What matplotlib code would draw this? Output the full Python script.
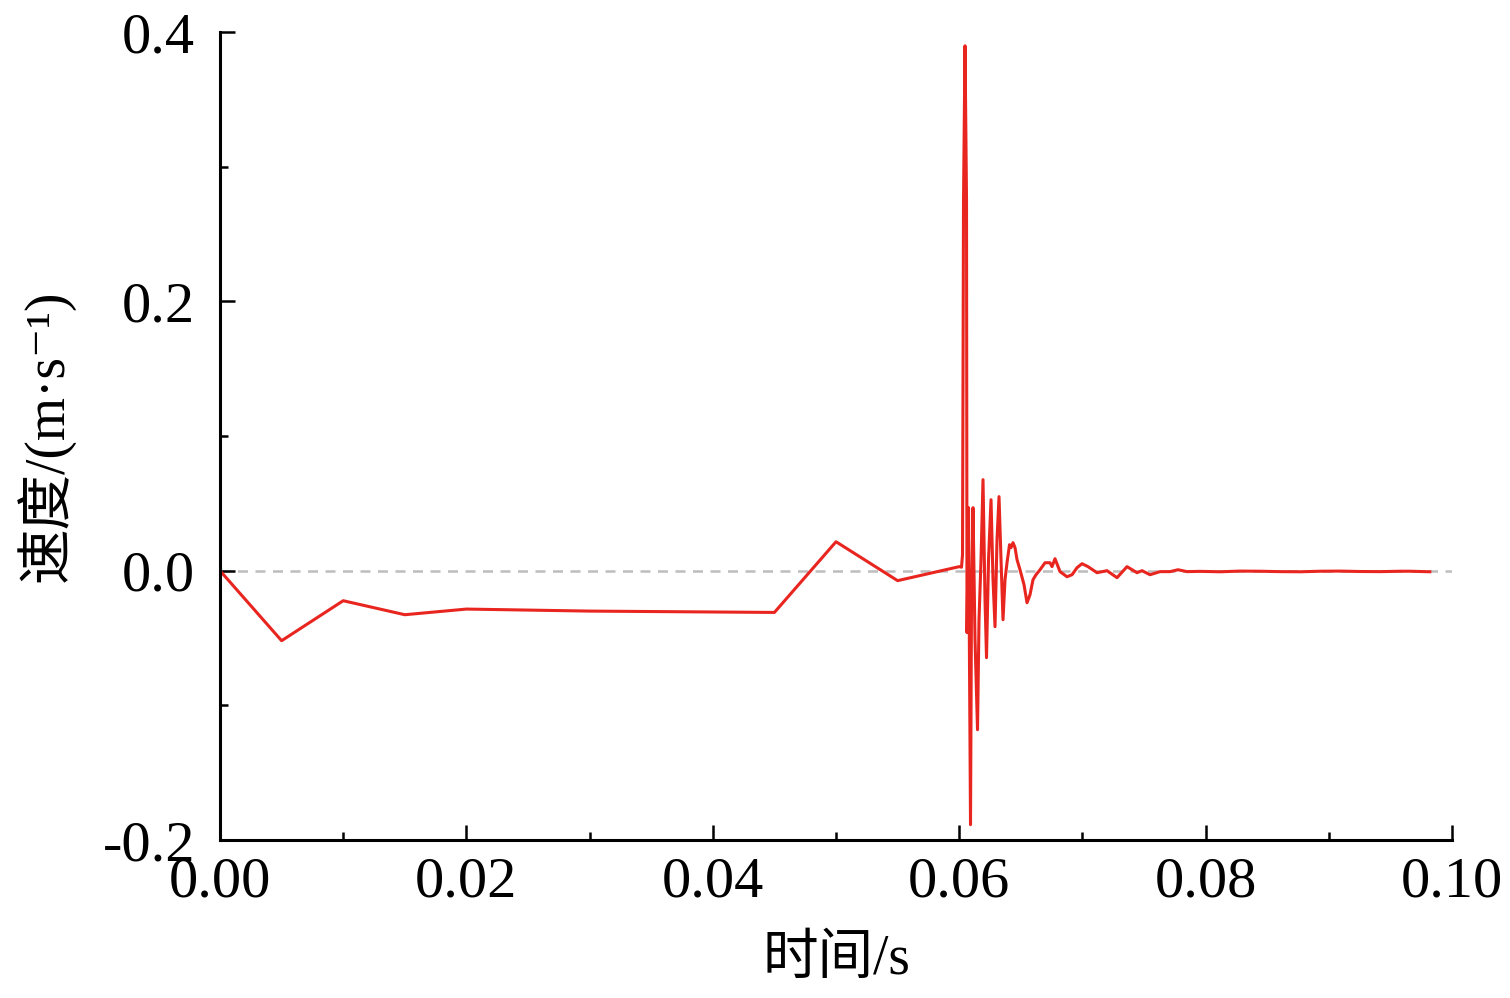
import matplotlib
matplotlib.use("Agg")
import matplotlib.pyplot as plt
from matplotlib.ticker import MultipleLocator, FormatStrFormatter

plt.rcParams['font.family'] = ['Liberation Serif', 'DejaVu Serif', 'Noto Sans CJK SC']
plt.rcParams['axes.unicode_minus'] = False

# time (s) and velocity (m/s)
time_s = [0.0, 0.005, 0.010, 0.015, 0.020, 0.030, 0.045, 0.050, 0.055, 0.0600,
          0.060187, 0.060268, 0.060349, 0.060471, 0.060593, 0.060633, 0.060755,
          0.060917, 0.060998, 0.061120, 0.061283, 0.061486, 0.061607, 0.061770,
          0.061932, 0.062094, 0.062216, 0.062379, 0.062582, 0.062744, 0.062906,
          0.063068, 0.063231, 0.063393, 0.063555, 0.063718, 0.063880, 0.064083,
          0.064205, 0.064367, 0.064530, 0.064692, 0.064935, 0.065260, 0.065503,
          0.065747, 0.065990, 0.066234, 0.066559, 0.066965, 0.067370, 0.067533,
          0.067776, 0.068182, 0.068750, 0.069156, 0.069562, 0.069967, 0.070455,
          0.071185, 0.071997, 0.072809, 0.073620, 0.074432, 0.074838, 0.075487,
          0.076300, 0.077111, 0.077760, 0.078491, 0.079546, 0.081200, 0.082800,
          0.084400, 0.086000, 0.087700, 0.089300, 0.090900, 0.092500, 0.094200,
          0.095800, 0.096600, 0.098200]
velocity = [0.0, -0.052, -0.0223, -0.0327, -0.0285, -0.0300, -0.0310, 0.0215, -0.0074, 0.0030,
            0.0026, 0.0119, 0.2755, 0.3898, 0.2755, -0.0460, 0.0468,
            -0.1886, -0.0215, 0.0468, -0.0512, -0.1181, -0.0364, 0.0082,
            0.0676, -0.0215, -0.0646, 0.0082, 0.0527, -0.0067, -0.0416,
            0.0230, 0.0550, 0.0082, -0.0364, -0.0067, 0.0059, 0.0193,
            0.0171, 0.0208, 0.0171, 0.0082, 0.0007, -0.0104, -0.0238,
            -0.0178, -0.0067, -0.0030, 0.0007, 0.0059, 0.0059, 0.0030,
            0.0089, -0.0007, -0.0045, -0.0030, 0.0022, 0.0052, 0.0030,
            -0.0015, 0.0, -0.0052, 0.0030, -0.0015, 0.0, -0.0030,
            -0.0007, -0.0007, 0.0007, -0.0007, -0.0005, -0.0008, -0.0003,
            -0.0004, -0.0007, -0.0008, -0.0004, -0.0003, -0.0006, -0.0007,
            -0.0004, -0.0004, -0.0008]

x_ticks = [0.00, 0.02, 0.04, 0.06, 0.08, 0.10]
y_ticks = [-0.2, 0.0, 0.2, 0.4]

fig = plt.figure(figsize=(15.1, 9.98), dpi=100)
ax = fig.add_axes([0.1457, 0.1583, 0.8159, 0.8096])

ax.axhline(0.0, color="#bdbdbd", ls=(0, (4, 3)), lw=1.8, zorder=1)
ax.plot(time_s, velocity, color="#e8251f", lw=2.2, zorder=2)

ax.set_xlim(0.0, 0.10)
ax.set_ylim(-0.2, 0.4)
ax.set_xticks(x_ticks)
ax.set_yticks(y_ticks)
ax.xaxis.set_minor_locator(MultipleLocator(0.01))
ax.yaxis.set_minor_locator(MultipleLocator(0.1))
ax.xaxis.set_major_formatter(FormatStrFormatter('%.2f'))
ax.yaxis.set_major_formatter(FormatStrFormatter('%.1f'))

for side in ['top', 'right']:
    ax.spines[side].set_visible(False)
for side in ['left', 'bottom']:
    ax.spines[side].set_linewidth(2.2)

ax.tick_params(which='major', direction='in', length=11, width=1.8, labelsize=42)
ax.tick_params(which='minor', direction='in', length=6, width=1.8)
ax.tick_params(axis='x', which='major', pad=12)
ax.tick_params(axis='y', which='major', pad=18)

ax.set_xlabel("时间/s", fontsize=40, labelpad=18)
ax.set_ylabel("速度/(m·s⁻¹)", fontsize=40, labelpad=20)

fig.savefig("out.png", dpi=100)
